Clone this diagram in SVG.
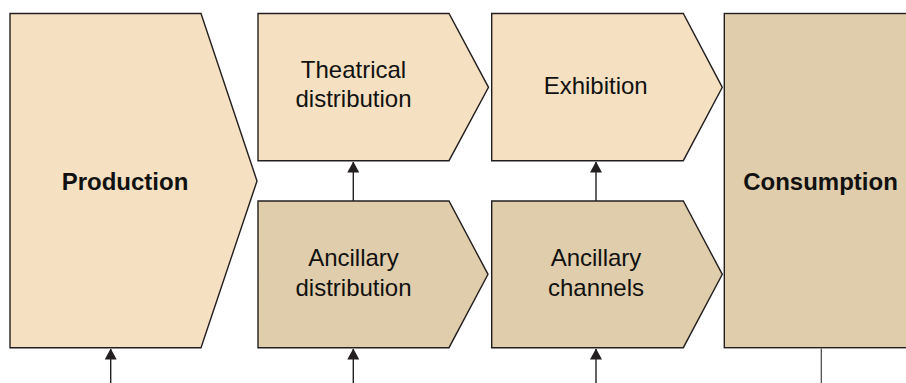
<svg xmlns="http://www.w3.org/2000/svg" width="906" height="383" viewBox="0 0 906 383">
<defs>
<style>
.light{fill:#F5E1C2;stroke:#231F20;stroke-width:1.4;stroke-linejoin:miter}
.dark{fill:#E0CDAB;stroke:#231F20;stroke-width:1.4;stroke-linejoin:miter}
.lbl{font-family:"Liberation Sans",Arial,sans-serif;font-size:24px;fill:#111;text-anchor:middle}
.bold{font-weight:bold}
.conn{stroke:#231F20;stroke-width:1.4;fill:none}
</style>
<marker id="ah" markerWidth="11" markerHeight="12" refX="10.5" refY="6" orient="auto" markerUnits="userSpaceOnUse" viewBox="0 0 11 12">
<path d="M0,0 L11,6 L0,12 Z" fill="#231F20"/>
</marker>
</defs>
<rect width="906" height="383" fill="#ffffff"/>
<g id="production">
<polygon class="light" points="10,13.5 201,13.5 257,181 201,347.7 10,347.7"/>
<text class="lbl bold" x="125" y="190">Production</text>
</g>
<g id="theatrical-distribution">
<polygon class="light" points="258,13.5 449,13.5 488.5,87.3 449,160.7 258,160.7"/>
<text class="lbl" x="353.5" y="78.3">Theatrical</text>
<text class="lbl" x="353.5" y="106.9">distribution</text>
</g>
<g id="exhibition">
<polygon class="light" points="491.7,13.5 683.3,13.5 722.3,87.3 683.3,160.7 491.7,160.7"/>
<text class="lbl" x="595.7" y="94.3">Exhibition</text>
</g>
<g id="ancillary-distribution">
<polygon class="dark" points="258,201 449,201 488,274.3 449,347.7 258,347.7"/>
<text class="lbl" x="353.5" y="266">Ancillary</text>
<text class="lbl" x="353.5" y="295.7">distribution</text>
</g>
<g id="ancillary-channels">
<polygon class="dark" points="491.7,201 683.3,201 722.3,274.3 683.3,347.7 491.7,347.7"/>
<text class="lbl" x="596" y="266">Ancillary</text>
<text class="lbl" x="596" y="295.7">channels</text>
</g>
<g id="consumption">
<rect class="dark" x="724.3" y="13.5" width="200" height="334.2"/>
<text class="lbl bold" x="820.5" y="190">Consumption</text>
</g>
<g id="connectors">
<line class="conn" x1="110.7" y1="383" x2="110.7" y2="349" marker-end="url(#ah)"/>
<line class="conn" x1="353.3" y1="383" x2="353.3" y2="349" marker-end="url(#ah)"/>
<line class="conn" x1="596" y1="383" x2="596" y2="349" marker-end="url(#ah)"/>
<line class="conn" x1="353.3" y1="201" x2="353.3" y2="162" marker-end="url(#ah)"/>
<line class="conn" x1="596" y1="201" x2="596" y2="162" marker-end="url(#ah)"/>
<line class="conn" x1="821.3" y1="348.4" x2="821.3" y2="383" style="stroke:#444;stroke-width:1.2"/>
</g>
</svg>
